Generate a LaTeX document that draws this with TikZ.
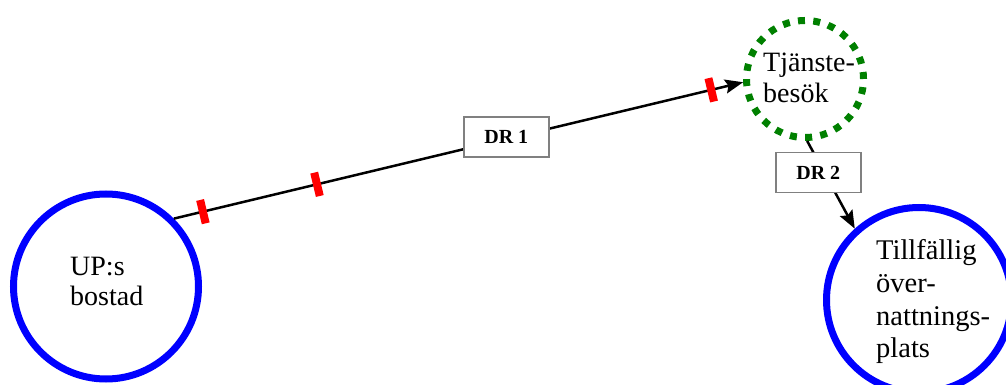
\documentclass[tikz,border=0pt]{standalone}
\usepackage{fontspec}
\setmainfont{Liberation Serif}
\usetikzlibrary{arrows.meta}
\definecolor{myblue}{RGB}{0,0,255}
\definecolor{mygreen}{RGB}{0,128,0}
\definecolor{myred}{RGB}{255,0,0}
\definecolor{mygray}{RGB}{128,128,128}
\begin{document}
\begin{tikzpicture}[x=1pt,y=1pt,
 place/.style={circle, draw=myblue, line width=7pt, minimum size=185pt, inner sep=0pt},
 visit/.style={circle, draw=mygreen, line width=7pt, minimum size=117pt, inner sep=0pt, dash pattern=on 7pt off 8.32pt},
 lbl/.style={anchor=base west, align=left, inner sep=0pt},
 drbox/.style={draw=mygray, line width=1.5pt, fill=white, minimum width=85pt, minimum height=40pt, inner sep=0pt, font=\fontsize{20}{24}\selectfont\bfseries},
 conn/.style={line width=2.5pt, -{Stealth[length=18pt,width=14pt,inset=3pt]}},
 tickmark/.style={sloped, fill=myred, minimum width=8pt, minimum height=24pt, inner sep=0pt}]
\useasboundingbox (0,0) rectangle (1006,385);
\node[place] (home) at (106,98.5) {};
\node[place] (over) at (919,85) {};
\node[visit] (tj) at (805,306) {};
\node[lbl, font=\fontsize{28}{30}\selectfont] (t1) at (70,79) {UP:s\\bostad};
\node[lbl, font=\fontsize{28}{31.5}\selectfont] (t2) at (763,282) {Tjänste-\\besök};
\node[lbl, font=\fontsize{28.5}{32.7}\selectfont] (t3) at (876,27) {Tillfällig\\över-\\nattnings-\\plats};
\draw[conn] (home.45) --
  node[tickmark, pos=0.051] (m1) {}
  node[tickmark, pos=0.2514] (m2) {}
  node[drbox, pos=0.584, yshift=2pt] (dr1) {DR 1}
  node[tickmark, pos=0.944] (m3) {}
  (tj.183);
\draw[conn] (tj.272) -- node[drbox, pos=0.36, xshift=-6pt] (dr2) {DR 2} (over.132);
\end{tikzpicture}
\end{document}
